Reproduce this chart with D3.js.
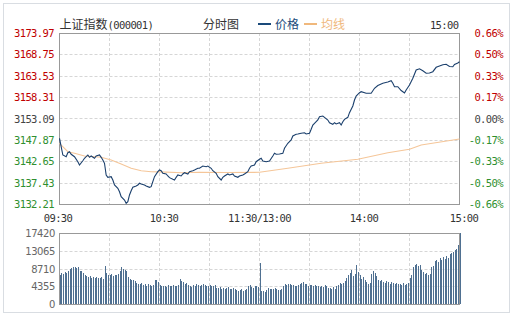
<!DOCTYPE html>
<html>
<head>
<meta charset="utf-8">
<script src="https://cdnjs.cloudflare.com/ajax/libs/d3/7.8.5/d3.min.js"></script>
<style>
  body { margin: 0; background: #fff; }
  .mono { font-family: "DejaVu Sans Mono", monospace; font-size: 10.5px; letter-spacing: -0.6px; }
  .cjk { font-family: "Noto Sans CJK SC", sans-serif; font-size: 12px; }
</style>
</head>
<body>
<div id="chart"></div>
<script>
// ---- data ----
const title = '上证指数';
const code = '(000001)';
const prevClose = 3153.09;
const priceTicks = [3173.97, 3168.75, 3163.53, 3158.31, 3153.09, 3147.87, 3142.65, 3137.43, 3132.21];
const pctTicks = ['0.66%', '0.50%', '0.33%', '0.17%', '0.00%', '-0.17%', '-0.33%', '-0.50%', '-0.66%'];
const timeTicks = [0, 60, 120, 180, 240];
const timeLabels = ['09:30', '10:30', '11:30/13:00', '14:00', '15:00'];
const volTicks = [0, 4355, 8710, 13065, 17420];

// minute index (0 = 09:30, 120 = 11:30/13:00, 240 = 15:00) and price
const priceMin = [0, 1, 2, 4, 5, 6, 7, 9, 11, 12, 14, 15, 17, 18, 19, 21, 22, 24, 25, 26,
  27, 28, 29, 31, 32, 33, 35, 36, 37, 39, 40, 41, 42, 43, 44, 46, 47, 48, 49, 51,
  52, 54, 55, 56, 57, 59, 60, 61, 62, 64, 65, 66, 68, 69, 70, 71, 73, 74, 75, 77,
  78, 80, 81, 83, 84, 86, 88, 89, 91, 92, 94, 95, 97, 98, 99, 101, 102, 104, 105, 107,
  108, 110, 111, 113, 114, 115, 117, 118, 120, 121, 122, 124, 126, 128, 129, 130, 132, 134, 135, 137,
  139, 140, 142, 143, 145, 147, 148, 150, 151, 152, 153, 155, 156, 158, 159, 161, 162, 164, 165, 166,
  168, 169, 170, 171, 173, 174, 176, 177, 178, 180, 181, 184, 187, 189, 191, 194, 197, 199, 200, 201,
  203, 205, 207, 208, 210, 212, 214, 216, 218, 220, 222, 224, 226, 228, 230, 232, 234, 236, 237, 239, 240];
const priceVal = [3148.25, 3146.20, 3144.18, 3143.76, 3144.74, 3144.98, 3144.35, 3143.76, 3142.54, 3141.73,
  3142.78, 3143.37, 3144.18, 3143.61, 3143.93, 3143.37, 3143.93, 3144.18, 3143.61, 3142.96,
  3142.15, 3139.29, 3138.73, 3138.88, 3138.07, 3136.85, 3136.04, 3135.21, 3133.99, 3133.19,
  3132.38, 3132.77, 3134.41, 3135.46, 3136.29, 3136.61, 3136.85, 3137.27, 3137.09, 3136.85,
  3136.61, 3136.29, 3136.44, 3137.66, 3138.88, 3140.10, 3140.51, 3140.34, 3139.71, 3139.54,
  3139.05, 3138.64, 3138.24, 3138.07, 3138.73, 3139.29, 3139.05, 3139.54, 3139.85, 3139.54,
  3140.10, 3140.34, 3140.51, 3140.93, 3140.93, 3141.49, 3141.32, 3141.49, 3140.93, 3140.34,
  3139.71, 3138.88, 3138.07, 3138.73, 3139.05, 3139.54, 3139.29, 3139.54, 3139.05, 3138.73,
  3139.05, 3139.29, 3139.54, 3140.10, 3140.93, 3141.49, 3141.73, 3142.54, 3143.13, 3143.37,
  3142.71, 3142.54, 3142.71, 3143.93, 3144.59, 3144.35, 3144.42, 3144.59, 3145.81, 3147.03,
  3147.84, 3148.82, 3149.23, 3149.30, 3149.48, 3149.62, 3149.30, 3149.48, 3150.45, 3151.50,
  3151.92, 3152.72, 3153.53, 3153.70, 3153.38, 3152.72, 3152.06, 3151.67, 3152.06, 3151.75,
  3152.06, 3151.50, 3152.31, 3152.89, 3153.38, 3154.51, 3156.14, 3157.61, 3158.58, 3159.39,
  3159.63, 3159.24, 3159.24, 3160.47, 3161.15, 3161.69, 3162.00, 3162.32, 3161.69, 3160.86,
  3160.86, 3159.93, 3159.32, 3160.05, 3161.27, 3162.91, 3164.93, 3165.23, 3164.74, 3164.13,
  3164.20, 3164.52, 3165.59, 3165.91, 3166.20, 3166.33, 3165.79, 3165.72, 3166.28, 3166.64, 3166.96];

// average line
const avgMin = [0, 5, 9, 15, 21, 25, 31, 37, 43, 49, 55, 60, 74, 84, 100, 120, 137, 157, 179, 197, 210, 217, 240];
const avgVal = [3147.00, 3144.98, 3144.59, 3143.93, 3143.76, 3143.61, 3142.96, 3141.98, 3140.93, 3140.34,
  3140.10, 3140.05, 3139.85, 3139.95, 3139.90, 3139.95, 3140.93, 3142.15, 3143.13, 3144.74,
  3145.57, 3146.62, 3148.08];

// volume per minute, 0..240
const volume = [
  7000, 7500, 7300, 7800, 7600, 8200, 8500, 8800, 9000, 9100,
  8800, 9000, 8200, 8000, 7600, 7000, 6800, 6600, 6900, 6500,
  6600, 6300, 6700, 6500, 6400, 6600, 6200, 9300, 7600, 7200,
  7000, 7400, 6900, 7200, 7000, 7300, 8000, 9000, 8600, 8300,
  8100, 6600, 6200, 6000, 5800, 5600, 5200, 5000, 4900, 5100,
  4700, 4800, 4500, 4900, 4600, 4400, 4700, 5800, 5900, 5400,
  4600, 4400, 4300, 4500, 4200, 4600, 4400, 4300, 4700, 4500,
  4300, 4600, 6100, 5600, 5300, 5000, 5200, 4700, 4500, 4200,
  4600, 4400, 4800, 4700, 4500, 4600, 4800, 4700, 4500, 4400,
  4600, 4300, 4500, 4700, 4000, 3900, 4100, 3800, 4000, 3700,
  3900, 4200, 3800, 3700, 4000, 3600, 3500, 3300, 3400, 3600,
  3200, 3400, 3700, 4300, 4600, 4200, 3900, 4400, 4300, 4200,
  10000,
  3300, 3100, 3000, 3400, 3900, 3700, 3600, 3800, 4000, 3700,
  3400, 3500, 3800, 4400, 4900, 4600, 5000, 4800, 4700, 4600,
  4500, 4300, 4700, 4800, 5100, 5300, 5000, 4800, 4400, 4600,
  4700, 4400, 4600, 4500, 4300, 4200, 4400, 4100, 4600, 4300,
  3900, 4000, 3700, 4100, 3800, 4300, 4700, 5200, 4800, 5100,
  5600, 6500, 7200, 7600, 8300, 6800, 7400, 9600, 7800, 7000,
  6200, 6700, 5800, 5300, 5000, 5200, 7300, 8000, 7700, 6800,
  6000, 5600, 5800, 5500, 5200, 5600, 5300, 5000, 5400, 5100,
  4900, 5200, 4800, 5000, 4700, 5100, 4700, 4900, 5200, 6300,
  7000, 9200, 9600, 9700, 9400, 9600, 8400, 7800, 7300, 7600,
  7100, 7400, 9200, 9400, 10600, 10900, 10300, 11200, 10800, 11600,
  11000, 11800, 11400, 12200, 12400, 12800, 13300, 13600, 14400, 17400];

const minuteChart = (() => {
  let svg;
  const props = {
    width: 513,
    height: 318,
    left: 59.5,
    right: 459.5,
    priceTop: 33,
    priceBottom: 204,
    volTop: 233,
    volBottom: 304,
    red: '#c00000',
    green: '#2f8f2f',
    gray: '#444',
    frame: '#999',
    grid: '#d6d6d6',
    priceColor: '#1a3f6c',
    avgColor: '#f5c699',
    barColor: '#4f7091'
  };
  const x = d3.scaleLinear().domain([0, 240]).range([props.left, props.right]);
  const y = d3.scaleLinear().domain([priceTicks[8], priceTicks[0]]).range([props.priceBottom, props.priceTop]);
  const yVol = d3.scaleLinear().domain([0, volTicks[4]]).range([props.volBottom, props.volTop]);
  const tickColor = v => v > prevClose + 0.001 ? props.red : (v < prevClose - 0.001 ? props.green : props.gray);

  return {
    create(el) {
      svg = d3.select(el).append('svg')
        .attr('width', props.width)
        .attr('height', props.height);
      this._drawFrame();
      this._drawHeader();
      this._drawPriceAxes();
      this._drawVolume();
      this._drawPrice();
    },

    _drawFrame() {
      svg.append('rect')
        .attr('x', 3.5).attr('y', 3.5)
        .attr('width', 506).attr('height', 309)
        .attr('fill', 'none')
        .attr('stroke', '#d9dde2');
    },

    _drawHeader() {
      const head = svg.append('g');
      head.append('text').attr('class', 'cjk')
        .attr('x', props.left).attr('y', 29)
        .attr('fill', '#333')
        .text(title);
      head.append('text').attr('class', 'mono')
        .attr('x', props.left + 48).attr('y', 29)
        .attr('fill', '#333')
        .text(code);
      head.append('text').attr('class', 'cjk')
        .attr('x', 221).attr('y', 29)
        .attr('text-anchor', 'middle')
        .attr('fill', '#333')
        .text('分时图');

      const legend = [
        {label: '价格', color: '#1a4a7a', x0: 258},
        {label: '均线', color: '#f0b87c', x0: 304}
      ];
      legend.forEach(l => {
        head.append('line')
          .attr('x1', l.x0).attr('x2', l.x0 + 13)
          .attr('y1', 24).attr('y2', 24)
          .attr('stroke', l.color)
          .attr('stroke-width', 2);
        head.append('text').attr('class', 'cjk')
          .attr('x', l.x0 + 17).attr('y', 29)
          .attr('fill', l.color)
          .text(l.label);
      });

      head.append('text').attr('class', 'mono')
        .attr('x', props.right - 1).attr('y', 29)
        .attr('text-anchor', 'end')
        .attr('fill', '#333')
        .text(timeLabels[4]);
    },

    _drawPriceAxes() {
      const g = svg.append('g');
      const vGrid = d3.range(30, 240, 30);

      // grid
      g.selectAll('.hgrid')
        .data(priceTicks.slice(1, -1))
        .enter().append('line')
        .attr('x1', props.left).attr('x2', props.right)
        .attr('y1', d => Math.round(y(d)) + 0.5).attr('y2', d => Math.round(y(d)) + 0.5)
        .attr('stroke', props.grid)
        .attr('stroke-dasharray', '3,2');
      [[props.priceTop, props.priceBottom], [props.volTop, props.volBottom]].forEach(([t, b]) => {
        g.selectAll(null)
          .data(vGrid)
          .enter().append('line')
          .attr('x1', d => x(d)).attr('x2', d => x(d))
          .attr('y1', t).attr('y2', b)
          .attr('stroke', props.grid)
          .attr('stroke-dasharray', '3,2');
      });
      g.selectAll('.vhgrid')
        .data(volTicks.slice(1, -1))
        .enter().append('line')
        .attr('x1', props.left).attr('x2', props.right)
        .attr('y1', d => Math.round(yVol(d)) + 0.5).attr('y2', d => Math.round(yVol(d)) + 0.5)
        .attr('stroke', props.grid)
        .attr('stroke-dasharray', '3,2');

      // frames
      [[props.priceTop, props.priceBottom], [props.volTop, props.volBottom]].forEach(([t, b]) => {
        g.append('rect')
          .attr('x', props.left).attr('y', t + 0.5)
          .attr('width', props.right - props.left)
          .attr('height', b - t)
          .attr('fill', 'none')
          .attr('stroke', props.frame);
      });

      // left price labels
      g.selectAll('.pl')
        .data(priceTicks)
        .enter().append('text').attr('class', 'mono')
        .attr('x', 54)
        .attr('y', d => y(d) + 4)
        .attr('text-anchor', 'end')
        .attr('fill', tickColor)
        .text(d => d.toFixed(2));

      // right percent labels
      g.selectAll('.pr')
        .data(priceTicks)
        .enter().append('text').attr('class', 'mono')
        .attr('x', 503)
        .attr('y', d => y(d) + 4)
        .attr('text-anchor', 'end')
        .attr('fill', tickColor)
        .text((d, i) => pctTicks[i]);

      // time labels
      const dx = [-1.5, 4.5, 0, 4.5, 4.5];
      g.selectAll('.tl')
        .data(timeTicks)
        .enter().append('text').attr('class', 'mono')
        .attr('x', (d, i) => x(d) + dx[i])
        .attr('y', 222)
        .attr('text-anchor', 'middle')
        .attr('fill', '#333')
        .text((d, i) => timeLabels[i]);

      // volume labels
      g.selectAll('.vl')
        .data(volTicks)
        .enter().append('text')
        .attr('x', 55)
        .attr('y', d => yVol(d) + 4)
        .attr('text-anchor', 'end')
        .attr('fill', '#666')
        .style('font-family', 'DejaVu Sans, sans-serif')
        .style('font-size', '10px')
        .style('letter-spacing', '-0.4px')
        .text(d => d);
    },

    _drawPrice() {
      const avg = avgMin.map((m, i) => [m, avgVal[i]]);
      const price = priceMin.map((m, i) => [m, priceVal[i]]);
      const line = d3.line().x(d => x(d[0])).y(d => y(d[1]));

      svg.append('path')
        .attr('d', line(avg))
        .attr('fill', 'none')
        .attr('stroke', props.avgColor)
        .attr('stroke-width', 1.1);
      svg.append('path')
        .attr('d', line(price))
        .attr('fill', 'none')
        .attr('stroke', props.priceColor)
        .attr('stroke-width', 1.1);
    },

    _drawVolume() {
      svg.append('g')
        .selectAll('rect')
        .data(volume)
        .enter().append('rect')
        .attr('x', (d, i) => Math.round(x(i)))
        .attr('width', 1)
        .attr('y', d => yVol(d))
        .attr('height', d => props.volBottom - yVol(d))
        .attr('fill', props.barColor)
        .attr('shape-rendering', 'crispEdges');
    }
  };
})();

minuteChart.create(document.getElementById('chart'));
</script>
</body>
</html>
